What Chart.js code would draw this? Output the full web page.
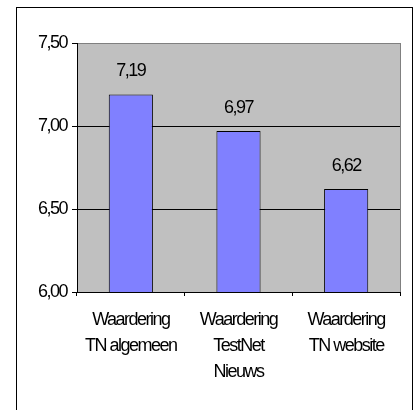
<!DOCTYPE html>
<html>
<head>
<meta charset="utf-8">
<script src="https://cdn.jsdelivr.net/npm/chart.js@4/dist/chart.umd.min.js"></script>
<style>
 body { margin: 0; background: #fff; }
 #frame { position: absolute; left: 16px; top: 7px; width: 395px; height: 420px; border: 1px solid #000; }
 #chart { position: absolute; left: 0; top: 0; }
</style>
</head>
<body>
<div id="frame"></div>
<canvas id="chart" width="416" height="410"></canvas>
<script>
var categories = [
 ["Waardering", "TN algemeen"],
 ["Waardering", "TestNet", "Nieuws"],
 ["Waardering", "TN website"]
];
var scores = [7.19, 6.97, 6.62];
var yMin = 6, yMax = 7.5, yStep = 0.5;

var fontFamily = "'Liberation Sans', Arial, sans-serif";
var fontSize = 18;
var squeeze = "-1.5px";

function comma(v) {
 return Number(v).toFixed(2).replace(".", ",");
}

// tight letter spacing like the original
var tightText = {
 id: "tightText",
 beforeUpdate: function (chart) { chart.ctx.letterSpacing = squeeze; },
 beforeDraw: function (chart) { chart.ctx.letterSpacing = squeeze; }
};

// grey plot area + grey right edge
var plotBg = {
 id: "plotBg",
 beforeDraw: function (chart) {
  var a = chart.chartArea, ctx = chart.ctx;
  ctx.save();
  ctx.fillStyle = "#C0C0C0";
  ctx.fillRect(a.left, a.top, a.right - a.left, a.bottom - a.top);
  ctx.strokeStyle = "#808080";
  ctx.lineWidth = 1;
  ctx.beginPath();
  ctx.moveTo(a.right + 0.5, a.top);
  ctx.lineTo(a.right + 0.5, a.bottom);
  ctx.stroke();
  ctx.restore();
 }
};

// values above bars
var valueLabels = {
 id: "valueLabels",
 afterDatasetsDraw: function (chart) {
  var ctx = chart.ctx;
  var meta = chart.getDatasetMeta(0);
  ctx.save();
  ctx.font = fontSize + "px " + fontFamily;
  ctx.fillStyle = "#000";
  ctx.textAlign = "center";
  ctx.textBaseline = "middle";
  meta.data.forEach(function (bar, i) {
   ctx.fillText(comma(chart.data.datasets[0].data[i]), bar.x, bar.y - 23);
  });
  ctx.restore();
 }
};

new Chart(document.getElementById("chart"), {
 type: "bar",
 data: {
  labels: categories,
  datasets: [{
   data: scores,
   backgroundColor: "#8080FF",
   borderColor: "#000",
   borderWidth: 1,
   categoryPercentage: 1,
   barPercentage: 0.41
  }]
 },
 options: {
  responsive: false,
  animation: false,
  layout: { padding: { top: 43, right: 16, left: 0, bottom: 0 } },
  plugins: { legend: { display: false }, tooltip: { enabled: false } },
  scales: {
   y: {
    min: yMin,
    max: yMax,
    afterFit: function (s) { s.width = 77; },
    ticks: {
     stepSize: yStep,
     padding: 5,
     color: "#000",
     font: { family: fontFamily, size: fontSize },
     callback: function (v) { return comma(v); }
    },
    grid: {
     color: function (c) { return c.tick && c.tick.value === yMax ? "#808080" : "#000"; },
     tickColor: "#000",
     tickLength: 5
    },
    border: { color: "#000" }
   },
   x: {
    afterFit: function (s) { s.height = 118; },
    ticks: {
     padding: 11,
     color: "#000",
     maxRotation: 0,
     minRotation: 0,
     autoSkip: false,
     font: { family: fontFamily, size: fontSize, lineHeight: "26px" }
    },
    grid: {
     drawOnChartArea: false,
     tickColor: "#000",
     tickLength: 4,
     offset: true
    },
    border: { color: "#000" }
   }
  }
 },
 plugins: [tightText, plotBg, valueLabels]
});
</script>
</body>
</html>
